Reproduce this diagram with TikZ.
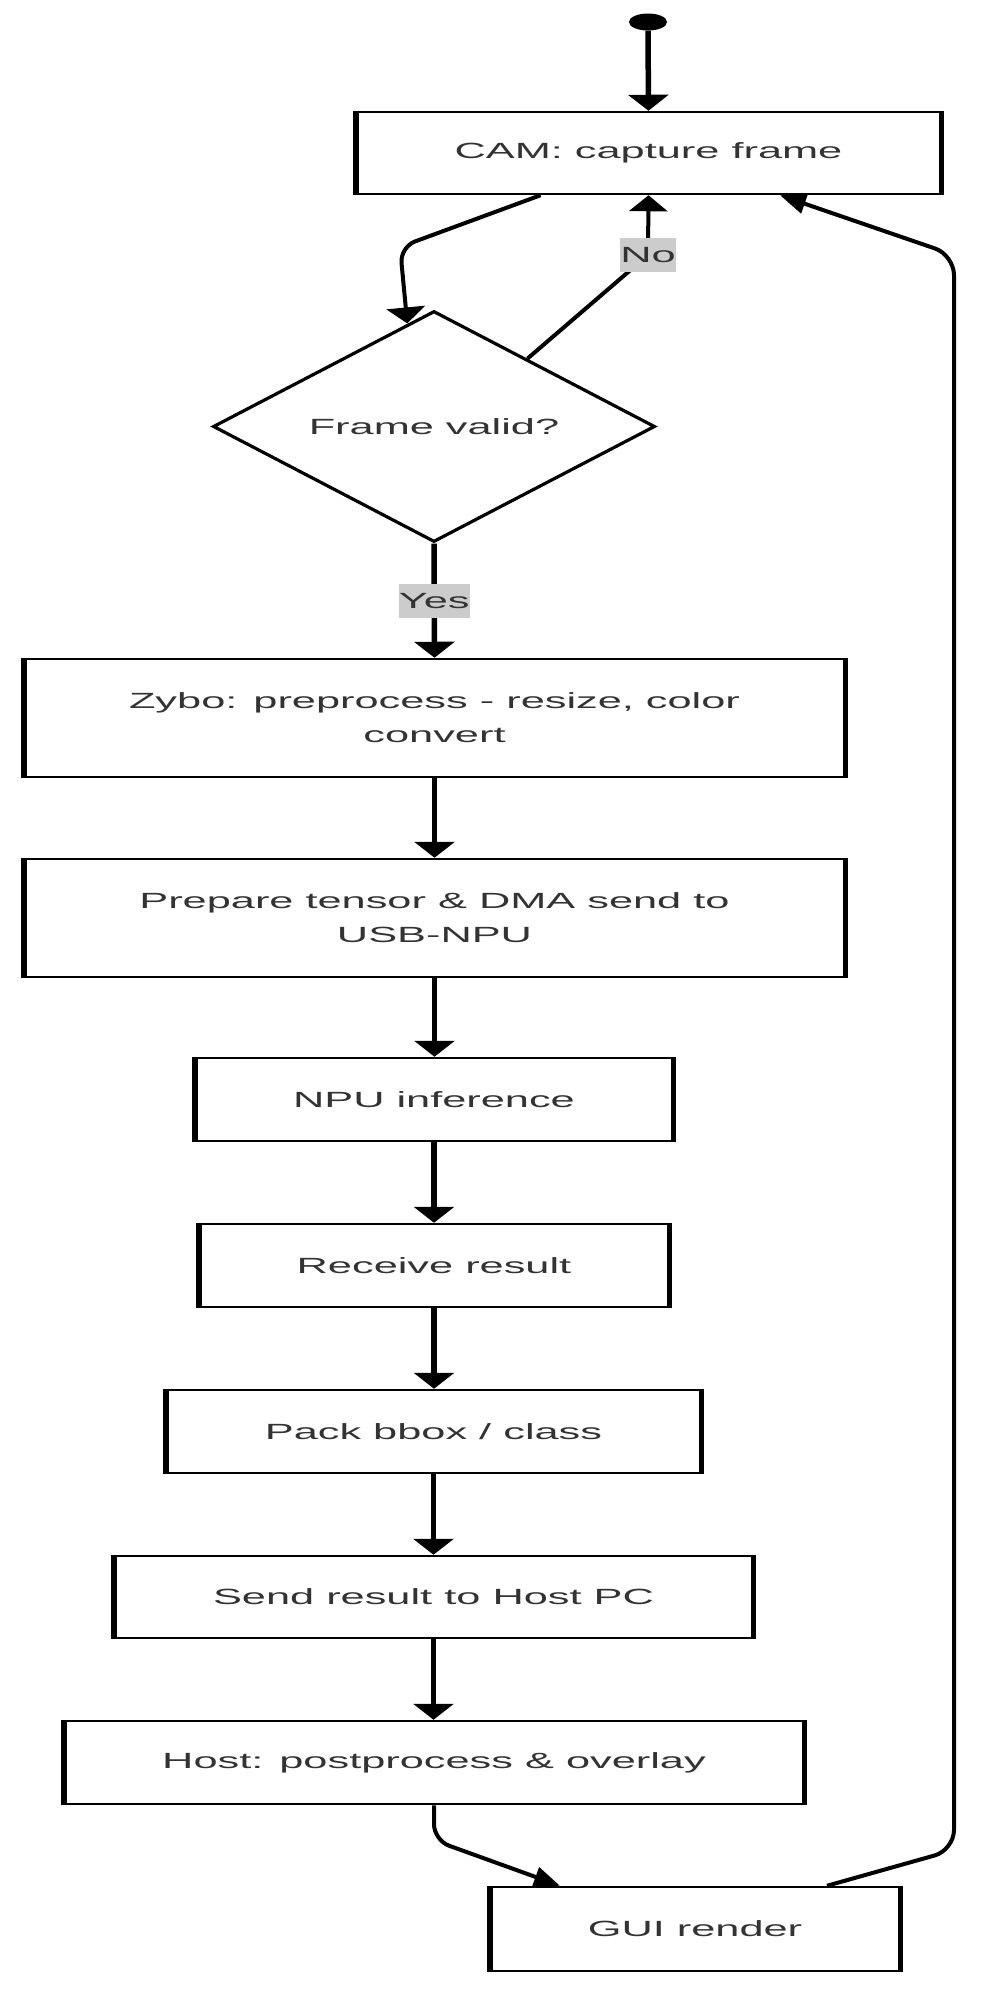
\documentclass[tikz,border=0pt]{standalone}
\usepackage{fontspec}
\newfontfamily\boxfont[FakeStretch=1.97]{Liberation Sans}
\usetikzlibrary{shapes.geometric,arrows.meta,calc,backgrounds}
\definecolor{textgray}{HTML}{333333}
\definecolor{labelgray}{HTML}{CCCCCC}
\tikzset{
  box/.style={draw, fill=white, line width=2.5pt, text=textgray, align=center, inner sep=0pt,
    font=\boxfont\fontsize{22}{34}\selectfont,
    append after command={(\tikzlastnode.north west) edge[line width=5.5pt] (\tikzlastnode.south west)
      (\tikzlastnode.north east) edge[line width=5.5pt] (\tikzlastnode.south east)}},
  decision/.style={diamond, aspect=1.9, draw, fill=white, line width=3.2pt, text=textgray,
    inner sep=0pt, font=\boxfont\fontsize{22}{34}\selectfont},
  startdot/.style={ellipse, fill=black, minimum width=38pt, minimum height=17pt, inner sep=0pt},
  lbl/.style={sharp corners, fill=labelgray, text=textgray, inner sep=0pt, minimum height=34pt,
    font=\boxfont\fontsize{22}{34}\selectfont},
  flow/.style={line width=5.5pt, -{Triangle[width=40pt,length=16pt]}},
  turnline/.style={line width=4pt, rounded corners=16pt},
  slant/.style={-{Triangle[width=20pt,length=26pt]}}
}
\begin{document}
\begin{tikzpicture}[x=1pt,y=-1pt]
	\useasboundingbox (0,0) rectangle (987,2000);

	\node[startdot] (start) at (648,22) {};
	\node[box, minimum width=583pt, minimum height=82pt] (cam) at (648.5,153) {CAM: capture frame};
	\node[decision, minimum width=442pt, minimum height=231pt] (valid) at (434,426.5) {Frame valid?};
	\node[box, minimum width=819pt, minimum height=118pt] (zybo) at (434.5,718) {Zybo: preprocess - resize, color\\convert};
	\node[box, minimum width=819pt, minimum height=118pt] (prep) at (434.5,918) {Prepare tensor \& DMA send to\\USB-NPU};
	\node[box, minimum width=476pt, minimum height=83pt] (npu) at (434,1099.5) {NPU inference};
	\node[box, minimum width=468pt, minimum height=83pt] (recv) at (434,1265.5) {Receive result};
	\node[box, minimum width=533pt, minimum height=83pt] (pack) at (433.5,1431.5) {Pack bbox / class};
	\node[box, minimum width=637pt, minimum height=82pt] (send) at (433.5,1597) {Send result to Host PC};
	\node[box, minimum width=738pt, minimum height=83pt] (host) at (434,1762.5) {Host: postprocess \& overlay};
	\node[box, minimum width=408pt, minimum height=84pt] (gui) at (695,1929) {GUI render};

	% connectors below the boxes
	\begin{pgfonlayer}{background}
	\draw[flow] (start.south) -- (cam.north);
	\draw[turnline, -{Triangle[width=38pt,length=16pt]}] ([xshift=-108pt]cam.south) -- (400,247) -- ($(valid.north)!0.12!(valid.west)$);
	\draw[turnline, -{Triangle[width=38pt,length=16pt]}] ($(valid.north)!0.42!(valid.east)$) -- (648,255) node[lbl] {No} -- (cam.south);
	\draw[flow] (valid.south) -- (zybo.north) node[lbl, midway] {Yes};

	\foreach \a/\b in {zybo/prep, prep/npu, npu/recv, recv/pack, pack/send, send/host} {
	     \draw[flow] (\a.south) -- (\a.south |- \b.north);
	}

	\draw[turnline, slant] (host.south) -- ++(0,35) -- ([xshift=-135pt]gui.north);
	\draw[turnline, slant, rounded corners=20pt] ([xshift=132pt]gui.north) -- (954,1850) -- (954,255) -- ([xshift=131.5pt]cam.south);
	\end{pgfonlayer}
\end{tikzpicture}
\end{document}
